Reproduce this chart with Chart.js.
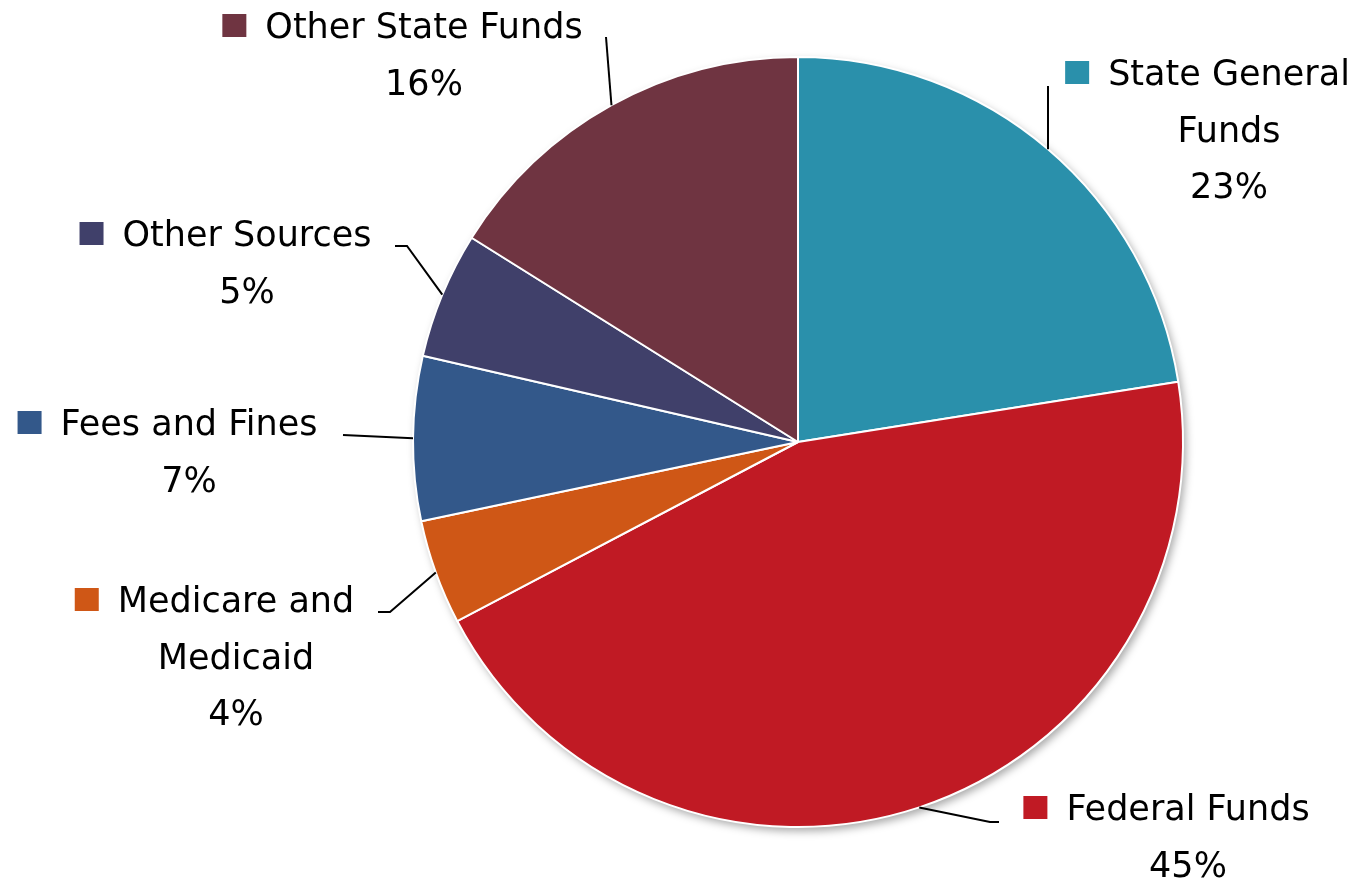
<!DOCTYPE html>
<html>
<head>
<meta charset="utf-8">
<script src="https://cdn.jsdelivr.net/npm/chart.js@4/dist/chart.umd.min.js"></script>
<style>
  html, body { margin: 0; padding: 0; background: #fff; }
  #holder { width: 1353px; height: 883px; }
</style>
</head>
<body>
<div id="holder"><canvas id="pie"></canvas></div>
<script>
// Data (share of total, clockwise from 12 o'clock)
const categories = [
    ['State General', 'Funds'],
    ['Federal Funds'],
    ['Medicare and', 'Medicaid'],
    ['Fees and Fines'],
    ['Other Sources'],
    ['Other State Funds']
];
const shares = [22.5, 44.8, 4.4, 6.9, 5.3, 16.1];
const sliceColors = ['#2A90AB', '#C01A24', '#CF5716', '#33588A', '#40406A', '#6F3441'];

// Label placement: text centre x, first baseline y, and leader bend points
const labelSpots = [
    { x: 1229, y: 85, leader: [[1048, 86]] },
    { x: 1188, y: 820, leader: [[990, 822], [999, 822]] },
    { x: 236, y: 612, leader: [[390, 612], [378, 612]] },
    { x: 189, y: 435, leader: [[343, 435]] },
    { x: 247, y: 246, leader: [[407, 246], [395, 246]] },
    { x: 424, y: 38, leader: [[606, 37]] }
];

const FONT = '35px "DejaVu Sans"';
const LINE_STEP = 56.5;

// White disc with soft shadow under the pie
const pieShadow = {
    id: 'pieShadow',
    beforeDatasetsDraw(chart) {
        const arc = chart.getDatasetMeta(0).data[0];
        if (!arc) return;
        const ctx = chart.ctx;
        ctx.save();
        ctx.shadowColor = 'rgba(0,0,0,0.35)';
        ctx.shadowBlur = 9;
        ctx.shadowOffsetX = 3;
        ctx.shadowOffsetY = 4;
        ctx.fillStyle = '#fff';
        ctx.beginPath();
        ctx.arc(arc.x, arc.y, arc.outerRadius, 0, Math.PI * 2);
        ctx.fill();
        ctx.restore();
    }
};

// Outside labels with legend squares and leader lines
const outsideLabels = {
    id: 'outsideLabels',
    afterDatasetsDraw(chart) {
        const ctx = chart.ctx;
        const meta = chart.getDatasetMeta(0);
        const data = chart.data.datasets[0].data;
        const total = data.reduce((a, b) => a + b, 0);
        ctx.save();
        meta.data.forEach((arc, i) => {
            const spot = labelSpots[i];
            // leader line from middle of the slice edge
            const mid = (arc.startAngle + arc.endAngle) / 2;
            ctx.strokeStyle = '#000';
            ctx.lineWidth = 2;
            ctx.beginPath();
            ctx.moveTo(arc.x + Math.cos(mid) * arc.outerRadius, arc.y + Math.sin(mid) * arc.outerRadius);
            spot.leader.forEach(p => ctx.lineTo(p[0], p[1]));
            ctx.stroke();

            const lines = chart.data.labels[i].concat([Math.round(data[i] / total * 100) + '%']);
            ctx.font = FONT;
            ctx.fillStyle = '#000';
            ctx.textAlign = 'center';
            ctx.textBaseline = 'alphabetic';
            lines.forEach((t, k) => ctx.fillText(t, spot.x, spot.y + k * LINE_STEP));

            // legend square before first line
            const w = ctx.measureText(lines[0]).width;
            ctx.fillStyle = sliceColors[i];
            ctx.fillRect(spot.x - w / 2 - 43, spot.y - 24, 24, 23);
        });
        ctx.restore();
    }
};

const config = {
    type: 'pie',
    data: {
        labels: categories,
        datasets: [{
            data: shares,
            backgroundColor: sliceColors,
            borderColor: '#fff',
            borderWidth: 2
        }]
    },
    options: {
        responsive: true,
        maintainAspectRatio: false,
        animation: false,
        layout: { padding: { left: 412, right: 169, top: 56, bottom: 55 } },
        plugins: {
            legend: { display: false },
            tooltip: { enabled: false }
        }
    },
    plugins: [pieShadow, outsideLabels]
};

new Chart(document.getElementById('pie').getContext('2d'), config);
</script>
</body>
</html>
